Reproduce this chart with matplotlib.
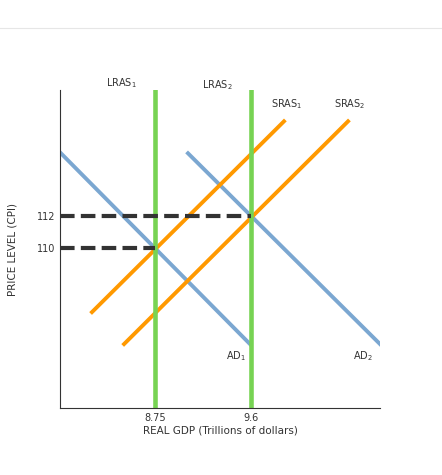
import matplotlib
matplotlib.use("Agg")
import matplotlib.pyplot as plt

xticks = [8.75, 9.6]
xtick_labels = ["8.75", "9.6"]
yticks = [110, 112]
ytick_labels = ["110", "112"]
lras = {"LRAS$_1$": 8.75, "LRAS$_2$": 9.6}
ad1_x = [7.909, 9.591]; ad1_y = [116.0, 104.0]
ad2_x = [9.042, 10.742]; ad2_y = [115.94, 104.0]
sras1_x = [8.192, 9.892]; sras1_y = [106.0, 117.94]
sras2_x = [8.476, 10.459]; sras2_y = [104.0, 117.94]
dash_levels = [(112, 9.6), (110, 8.75)]

fig = plt.figure(figsize=(4.42, 4.75), dpi=100)
fig.add_artist(plt.Line2D([0, 1], [1 - 28/475]*2, color="#e6e6e6", lw=0.8))
ax = fig.add_axes([60/442, 67/475, 320/442, 318/475])
ax.set_xlim(7.909, 10.742)
ax.set_ylim(100, 119.9)
for s in ["top", "right"]:
    ax.spines[s].set_visible(False)
for s in ["left", "bottom"]:
    ax.spines[s].set_color("#333333")

blue = "#7ba7d1"; orange = "#ff9900"; green = "#77d353"
ax.plot(ad1_x, ad1_y, color=blue, lw=2.8)
ax.plot(ad2_x, ad2_y, color=blue, lw=2.8)
ax.plot(sras1_x, sras1_y, color=orange, lw=2.8)
ax.plot(sras2_x, sras2_y, color=orange, lw=2.8)
for name, x in lras.items():
    ax.plot([x, x], [100, 119.9], color=green, lw=3.3)
for y, xe in dash_levels:
    ax.plot([7.909, xe], [y, y], color="#333333", lw=3, ls=(0, (3.5, 1.5)))

fs = 7
ax.text(8.45, 119.9, "LRAS$_1$", fontsize=fs, ha="center", va="bottom", color="#333")
ax.text(9.3, 119.8, "LRAS$_2$", fontsize=fs, ha="center", va="bottom", color="#333")
ax.text(9.92, 118.6, "SRAS$_1$", fontsize=fs, ha="center", va="bottom", color="#333")
ax.text(10.47, 118.6, "SRAS$_2$", fontsize=fs, ha="center", va="bottom", color="#333")
ax.text(9.47, 102.8, "AD$_1$", fontsize=fs, ha="center", va="bottom", color="#333")
ax.text(10.59, 102.8, "AD$_2$", fontsize=fs, ha="center", va="bottom", color="#333")

ax.set_xticks(xticks, xtick_labels, fontsize=fs)
ax.set_yticks(yticks, ytick_labels, fontsize=fs)
ax.tick_params(length=0, colors="#333")
ax.set_xlabel("REAL GDP (Trillions of dollars)", fontsize=7.5, color="#333", labelpad=2)
ax.set_ylabel("PRICE LEVEL (CPI)", fontsize=7.5, color="#333", labelpad=14)
fig.savefig("out.png", dpi=100)
